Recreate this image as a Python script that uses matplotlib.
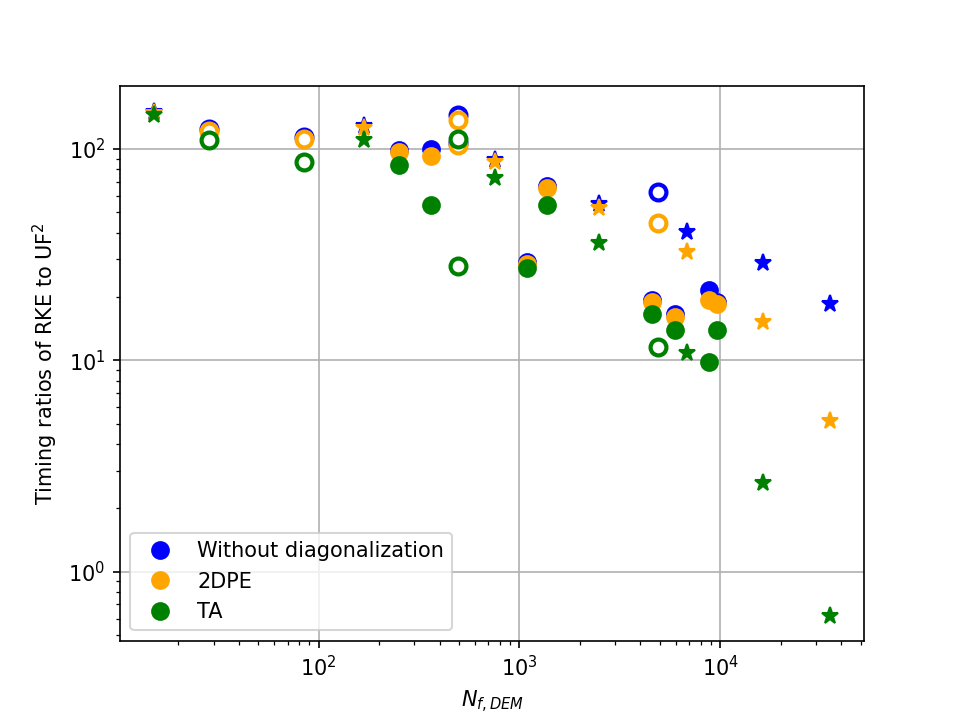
import matplotlib
matplotlib.use("Agg")
import matplotlib.pyplot as plt

# abscisses (N_f,DEM) par type de marqueur
x_plein = [250, 361, 1084, 1378, 4590, 5970, 8810, 9660]
x_creux = [28.4, 84.2, 492, 492, 4918]
x_etoile = [15.1, 169, 751, 2500, 6850, 16370, 35250]

# rapports de temps, cercles pleins
plein_sans = [98.9, 100, 29.1, 66.8, 19.2, 16.5, 21.4, 18.8]
plein_2dpe = [96.8, 92.6, 28.5, 65.3, 18.8, 16.0, 19.2, 18.4]
plein_ta = [84, 54.3, 27.3, 54.3, 16.5, 13.9, 9.8, 13.9]

# cercles creux
creux_sans = [124, 114, 145, 107, 62.6]
creux_2dpe = [121, 111.5, 137, 104.5, 44.6]
creux_ta = [110, 86.8, 111.5, 27.9, 11.5]

# etoiles
etoile_sans = [150, 128, 88.7, 54.8, 40.4, 28.8, 18.4]
etoile_2dpe = [148, 126, 86.8, 52.6, 32.5, 15.1, 5.14]
etoile_ta = [143.8, 110, 72.9, 35.9, 10.8, 2.64, 0.62]

labels = ["Without diagonalization", "2DPE", "TA"]
couleurs = ["blue", "orange", "green"]
pleins = [plein_sans, plein_2dpe, plein_ta]
creux = [creux_sans, creux_2dpe, creux_ta]
etoiles = [etoile_sans, etoile_2dpe, etoile_ta]

fig, ax = plt.subplots(figsize=(6.4, 4.8), dpi=150)
for lab, c, yp, yc, ye in zip(labels, couleurs, pleins, creux, etoiles):
    ax.plot(x_plein, yp, "o", color=c, markersize=8, label=lab)
    ax.plot(x_creux, yc, "o", color=c, markerfacecolor="white",
            markersize=7.6, markeredgewidth=2)
    ax.plot(x_etoile, ye, "*", color=c, markersize=8.5)

ax.set_xscale("log")
ax.set_yscale("log")
ax.set_xlabel("$N_{f,DEM}$")
ax.set_ylabel("Timing ratios of RKE to UF$^2$")
ax.grid(True)
ax.legend(loc="lower left")
plt.savefig("out.png", dpi=150)
